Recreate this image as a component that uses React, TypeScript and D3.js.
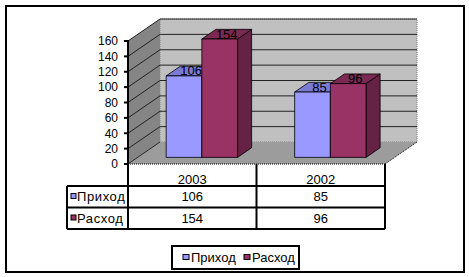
import React from "react";
import * as d3 from "d3";

const categories = ["2003", "2002"];
const seriesNames = ["Приход", "Расход"];
const prihod = [106, 85];
const rashod = [154, 96];
const yTicks = [0, 20, 40, 60, 80, 100, 120, 140, 160];

const seriesValues = [prihod, rashod];
const colors = [
  { front: "#9999ff", top: "#7b7bd6", side: "#6b6bb8" },
  { front: "#993366", top: "#7a2952", side: "#662244" },
];

const FONT = "Arial, 'Liberation Sans', sans-serif";

export default function App() {
  const x0Left = 128;
  const x0Right = 385;
  const yFront0 = 164;
  const DX = 32;
  const DY = -22;

  const y = d3.scaleLinear().domain([0, 160]).range([yFront0, 41]);
  const x0 = d3.scaleBand<string>().domain(categories).range([x0Left, x0Right]);
  const x1 = d3
    .scaleBand<string>()
    .domain(seriesNames)
    .range([0, x0.bandwidth()])
    .paddingOuter(0.8);

  const z1 = 0.3;
  const z2 = 0.74;
  const proj = (px: number, py: number, z: number): [number, number] => [px + DX * z, py + DY * z];
  const pts = (arr: [number, number][]) => arr.map((p) => p.join(",")).join(" ");

  const backY = (v: number) => y(v) + DY;

  const bars: React.ReactNode[] = [];
  const labels: React.ReactNode[] = [];
  categories.forEach((c, ci) => {
    seriesNames.forEach((s, si) => {
      const v = seriesValues[si][ci];
      const xl = (x0(c) as number) + (x1(s) as number);
      const xr = xl + x1.bandwidth();
      const yt = y(v);
      const yb = y(0);
      const fTL = proj(xl, yt, z1);
      const fTR = proj(xr, yt, z1);
      const fBR = proj(xr, yb, z1);
      const fBL = proj(xl, yb, z1);
      const bTL = proj(xl, yt, z2);
      const bTR = proj(xr, yt, z2);
      const bBR = proj(xr, yb, z2);
      const col = colors[si];
      bars.push(
        <g key={`${c}-${s}`} stroke="#000" strokeWidth={0.8} strokeLinejoin="round">
          <polygon points={pts([fTR, bTR, bBR, fBR])} fill={col.side} />
          <polygon points={pts([fTL, fTR, bTR, bTL])} fill={col.top} />
          <polygon points={pts([fTL, fTR, fBR, fBL])} fill={col.front} />
        </g>
      );
      labels.push(
        <text
          key={`l-${c}-${s}`}
          x={(fTL[0] + fTR[0]) / 2 + (bTL[0] - fTL[0]) / 2}
          y={fTL[1] - 0.5}
          textAnchor="middle"
          fontSize={13}
          fontFamily={FONT}
          fill="#000"
        >
          {v}
        </text>
      );
    });
  });

  const rowTop = 186;
  const rowH = 21.5;
  const tableLeft = 67;

  return (
    <div style={{ position: "absolute", left: 0, top: 0 }}>
      <svg width={469} height={277} viewBox="0 0 469 277" style={{ display: "block" }}>
        <rect x={0} y={0} width={469} height={277} fill="#fff" />
        <rect x={6} y={6} width={458} height={266} fill="#fff" stroke="#000" strokeWidth={2} />

        {/* back wall */}
        <rect
          x={x0Left + DX}
          y={backY(160)}
          width={x0Right - x0Left}
          height={backY(0) - backY(160)}
          fill="#c0c0c0"
          stroke="#808080"
          strokeWidth={1}
          strokeDasharray="1,1"
        />
        {/* left wall */}
        <polygon
          points={pts([
            [x0Left, y(160)],
            [x0Left + DX, backY(160)],
            [x0Left + DX, backY(0)],
            [x0Left, y(0)],
          ])}
          fill="#858585"
        />
        {/* floor */}
        <polygon
          points={pts([
            [x0Left, y(0)],
            [x0Right, y(0)],
            [x0Right + DX, backY(0)],
            [x0Left + DX, backY(0)],
          ])}
          fill="#9c9c9c"
        />
        <line x1={x0Left} x2={x0Right} y1={y(0)} y2={y(0)} stroke="#000" strokeWidth={1} strokeDasharray="1,1" />
        <line x1={x0Right} x2={x0Right + DX} y1={y(0)} y2={backY(0)} stroke="#000" strokeWidth={1} strokeDasharray="1,1" />

        {/* gridlines */}
        {yTicks.map((t) => (
          <g key={`g${t}`} stroke="#222" strokeWidth={1}>
            {t > 0 && <line x1={x0Left + DX} x2={x0Right + DX} y1={backY(t)} y2={backY(t)} />}
            <line x1={x0Left} x2={x0Left + DX} y1={y(t)} y2={backY(t)} />
          </g>
        ))}

        {bars}
        {labels}

        {/* y axis */}
        <line x1={x0Left} x2={x0Left} y1={y(160) - 1} y2={rowTop + 2 * rowH + 1} stroke="#000" strokeWidth={2} />
        {yTicks.map((t) => (
          <g key={`t${t}`}>
            <line x1={x0Left - 4} x2={x0Left} y1={y(t)} y2={y(t)} stroke="#000" strokeWidth={2} />
            <text
              x={118}
              y={y(t)}
              dy="0.36em"
              textAnchor="end"
              fontSize={12}
              fontFamily={FONT}
              fill="#000"
            >
              {t}
            </text>
          </g>
        ))}

        {/* data table */}
        <g stroke="#000" strokeWidth={2}>
          {[0, 1, 2].map((i) => (
            <line key={`h${i}`} x1={tableLeft} x2={x0Right} y1={rowTop + i * rowH} y2={rowTop + i * rowH} />
          ))}
          <line x1={tableLeft} x2={tableLeft} y1={rowTop} y2={rowTop + 2 * rowH} />
          {categories.map((c, i) => (
            <line
              key={`v${c}`}
              x1={(x0(c) as number) + x0.bandwidth()}
              x2={(x0(c) as number) + x0.bandwidth()}
              y1={y(0)}
              y2={rowTop + 2 * rowH}
            />
          ))}
        </g>
        {categories.map((c) => (
          <text
            key={`c${c}`}
            x={(x0(c) as number) + x0.bandwidth() / 2}
            y={184}
            textAnchor="middle"
            fontSize={13}
            fontFamily={FONT}
          >
            {c}
          </text>
        ))}
        {seriesNames.map((s, si) => (
          <g key={`r${s}`}>
            <rect
              x={71}
              y={rowTop + si * rowH + 7.5}
              width={5}
              height={5}
              fill={colors[si].front}
              stroke="#000"
              strokeWidth={1}
            />
            <text
              x={77}
              y={rowTop + si * rowH + 15}
              fontSize={13}
              fontFamily={FONT}
              letterSpacing={0.6}
            >
              {s}
            </text>
            {categories.map((c, ci) => (
              <text
                key={`v${s}${c}`}
                x={(x0(c) as number) + x0.bandwidth() / 2}
                y={rowTop + si * rowH + 15}
                textAnchor="middle"
                fontSize={13}
                fontFamily={FONT}
              >
                {seriesValues[si][ci]}
              </text>
            ))}
          </g>
        ))}

        {/* legend */}
        <rect x={172} y={246} width={127} height={23} fill="#fff" stroke="#000" strokeWidth={2} />
        {seriesNames.map((s, si) => (
          <g key={`lg${s}`} transform={`translate(${si === 0 ? 183 : 244},0)`}>
            <rect x={0} y={254.5} width={6} height={5} fill={colors[si].front} stroke="#000" strokeWidth={1} />
            <text x={8} y={262} fontSize={13} fontFamily={FONT}>
              {s}
            </text>
          </g>
        ))}
      </svg>
    </div>
  );
}
